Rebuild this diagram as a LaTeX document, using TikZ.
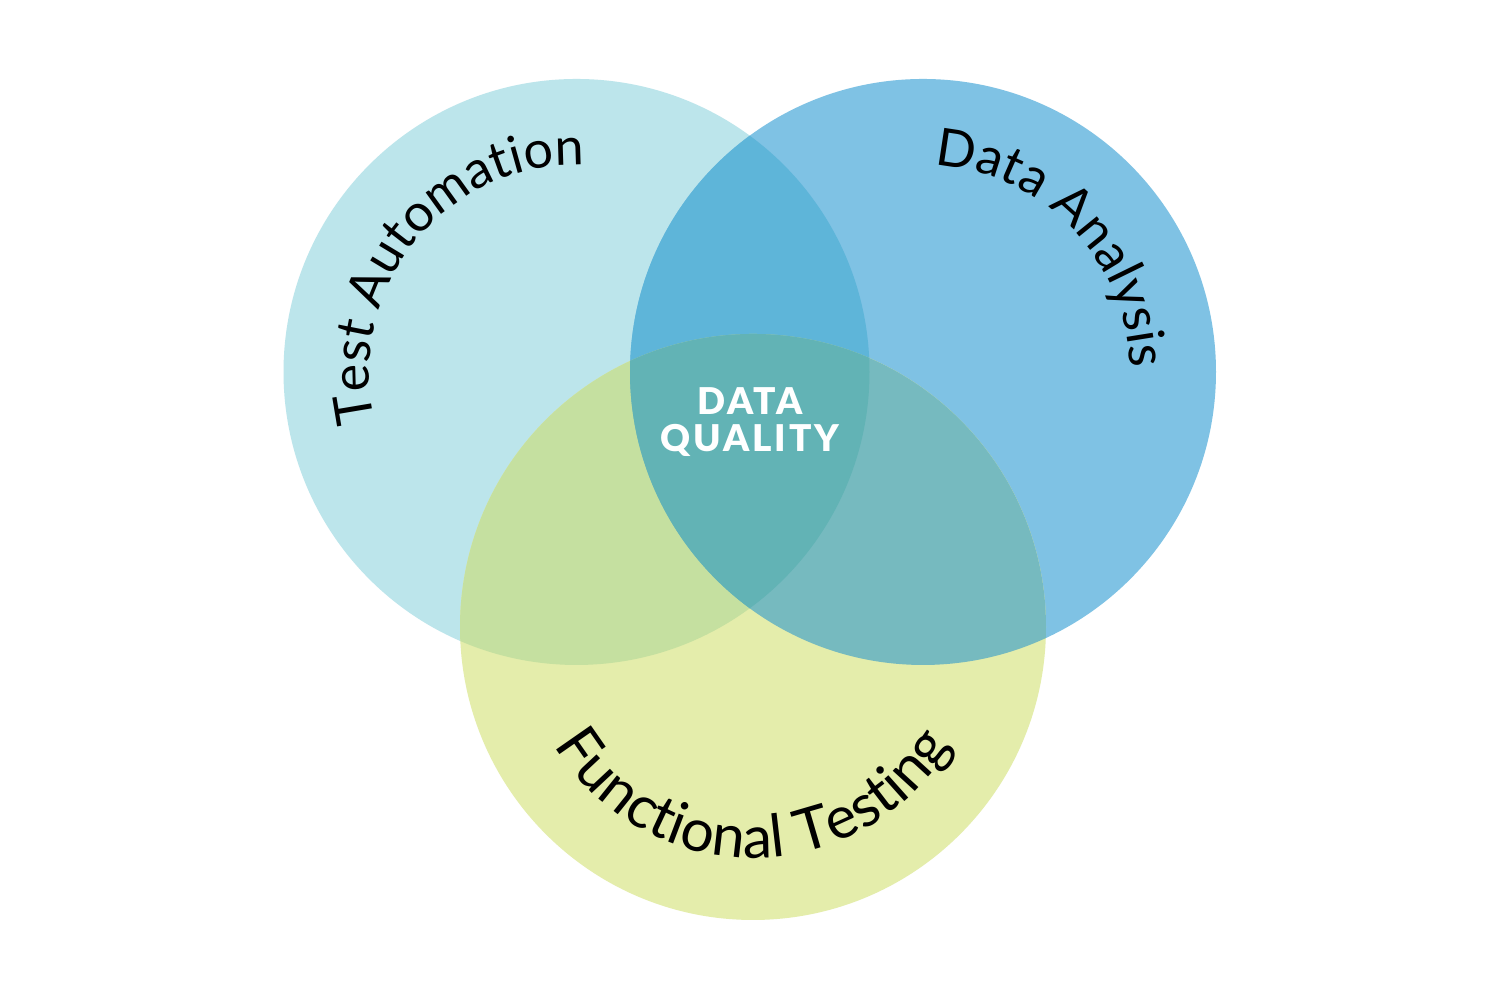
\documentclass[tikz,border=0pt]{standalone}
\usepackage{fontspec}
\setmainfont{Lato}
\newfontfamily\dqfont[LetterSpace=8]{Lato Black}
\usetikzlibrary{decorations.text,calc}
\definecolor{cL}{HTML}{BCE5EB}
\definecolor{cR}{HTML}{7FC2E4}
\definecolor{cB}{HTML}{E4EDAB}
\definecolor{cLR}{HTML}{5EB5D9}
\definecolor{cLB}{HTML}{C5E0A0}
\definecolor{cRB}{HTML}{76BABF}
\definecolor{cLRB}{HTML}{62B3B5}
\newcommand\topcurve{\fontsize{14.8}{18}\selectfont}
\newcommand\botcurve{\fontsize{16.8}{19}\selectfont}
\begin{document}
\begin{tikzpicture}
\tikzset{
  disc/.style={radius=2.93},
  curvelabel/.style={decorate, decoration={text along path, text align=center, text color=black}},
  dq/.style={text=white, font=\dqfont\fontsize{10.5}{12}\selectfont, inner sep=0pt, anchor=base}
}
\useasboundingbox (0,0) rectangle (15,10);
\fill[white] (0,0) rectangle (15,10);
\coordinate (L) at (5.765,6.28);
\coordinate (R) at (9.23,6.28);
\coordinate (B) at (7.53,3.73);
% base discs
\fill[cL] (L) circle[disc];
\fill[cR] (R) circle[disc];
\fill[cB] (B) circle[disc];
% overlaps
\begin{scope}
  \clip (L) circle[disc];
  \fill[cLR] (R) circle[disc];
  \fill[cLB] (B) circle[disc];
\end{scope}
\begin{scope}
  \clip (R) circle[disc];
  \fill[cRB] (B) circle[disc];
\end{scope}
\begin{scope}
  \clip (L) circle[disc];
  \clip (R) circle[disc];
  \fill[cLRB] (B) circle[disc];
\end{scope}
% curved labels
\path[curvelabel, decoration={text={|\topcurve|Test Automation}}]
  ($(L)+(215.8:2.07)$) arc[start angle=215.8, end angle=65.8, radius=2.07];
\path[curvelabel, decoration={text={|\topcurve|Data Analysis}}]
  ($(R)+(114:2.07)$) arc[start angle=114, end angle=-26, radius=2.07];
\path[curvelabel, decoration={text={|\botcurve|Functional Testing}}]
  ($(B)+(195:2.31)$) arc[start angle=195, end angle=345, radius=2.31];
% centre label
\node[dq] (dq1) at (7.50,5.85) {DATA};
\node[dq] (dq2) at (7.50,5.48) {QUALITY};
\end{tikzpicture}
\end{document}
